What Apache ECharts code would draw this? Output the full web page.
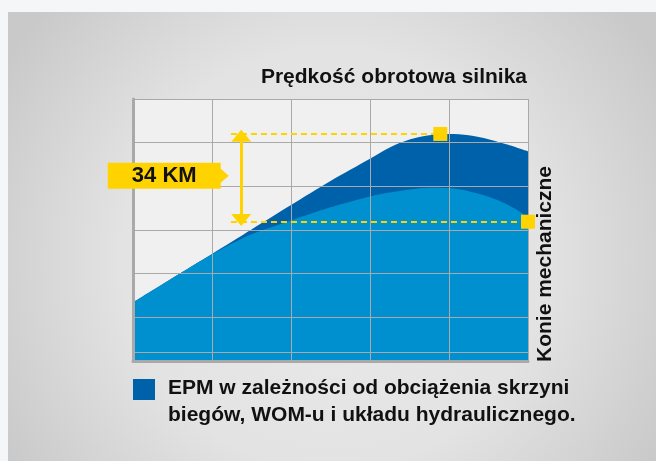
<!DOCTYPE html>
<html>
<head>
<meta charset="utf-8">
<script src="https://cdn.jsdelivr.net/npm/echarts@6/dist/echarts.min.js"></script>
<style>
  html, body { margin: 0; padding: 0; background: #f5f6f8; }
  #main { width: 656px; height: 461px; }
</style>
</head>
<body>
<div id="main"></div>
<script>
// obroty (umowne jednostki osi X) i moc (umowne jednostki osi Y)
var rpm = [0, 0.5, 1, 1.5, 2, 2.5, 3, 3.25, 3.5, 3.75, 4, 4.25, 4.5, 4.75, 5];
var powerMax = [1.34, 1.9, 2.45, 3.01, 3.57, 4.12, 4.63, 4.89, 5.07, 5.17, 5.2, 5.17, 5.08, 4.95, 4.8];
var powerEpm = [1.34, 1.9, 2.44, 2.9, 3.22, 3.52, 3.77, 3.86, 3.93, 3.97, 3.96, 3.89, 3.76, 3.57, 3.3];

var peakPoint = [3.89, 5.2];
var endPoint = [5, 3.19];
var dashStartX = 1.24;
var arrowX = 1.37;
var diffLabel = '34 KM';

var titleText = 'Prędkość obrotowa silnika';
var yName = 'Konie mechaniczne';
var legendLines = ['EPM w zależności od obciążenia skrzyni', 'biegów, WOM-u i układu hydraulicznego.'];

var darkBlue = '#0061ab';
var lightBlue = '#0090d0';
var yellow = '#ffd300';
var gridGrey = '#a9a9a9';
var fontFamily = '"Liberation Sans", Arial, sans-serif';

function pairs(xs, ys) {
  var out = [];
  for (var i = 0; i < xs.length; i++) {
    out.push([xs[i], ys[i]]);
  }
  return out;
}

var myChart = echarts.init(document.getElementById('main'));

myChart.setOption({
  backgroundColor: '#f5f6f8',
  animation: false,
  title: {
    text: titleText,
    right: 129,
    top: 67,
    padding: 0,
    textStyle: { fontFamily: fontFamily, fontSize: 21, fontWeight: 'bold', color: '#111' }
  },
  grid: {
    left: 133,
    top: 99,
    width: 395,
    height: 262,
    show: true,
    backgroundColor: '#f0f0f0',
    borderWidth: 0
  },
  xAxis: {
    type: 'value',
    min: 0,
    max: 5,
    interval: 1,
    z: 3,
    axisLine: { show: true, lineStyle: { color: gridGrey, width: 3 } },
    axisTick: { show: false },
    axisLabel: { show: false },
    splitLine: { show: true, lineStyle: { color: gridGrey, width: 1 } }
  },
  yAxis: {
    type: 'value',
    min: 0,
    max: 6,
    interval: 1,
    z: 3,
    axisLine: { show: true, lineStyle: { color: gridGrey, width: 3 } },
    axisTick: { show: false },
    axisLabel: { show: false },
    splitLine: { show: true, lineStyle: { color: gridGrey, width: 1 } }
  },
  graphic: [
    {
      type: 'rect',
      z: -10,
      silent: true,
      shape: { x: 8, y: 12, width: 648, height: 449 },
      style: {
        fill: new echarts.graphic.RadialGradient(0.5, 0.55, 0.85, [
          { offset: 0, color: '#eaeaea' },
          { offset: 0.55, color: '#e3e3e3' },
          { offset: 1, color: '#c9c9c9' }
        ])
      }
    },
    {
      type: 'text',
      x: 556,
      y: 264,
      rotation: Math.PI / 2,
      style: {
        text: yName,
        font: 'bold 21px ' + fontFamily,
        fill: '#111',
        textAlign: 'center',
        textVerticalAlign: 'bottom'
      }
    },
    {
      type: 'rect',
      shape: { x: 133, y: 379, width: 22, height: 21 },
      style: { fill: darkBlue }
    },
    {
      type: 'text',
      x: 168,
      y: 375,
      style: {
        text: legendLines.join('\n'),
        font: 'bold 21px ' + fontFamily,
        lineHeight: 27,
        fill: '#111',
        textAlign: 'left',
        textVerticalAlign: 'top'
      }
    }
  ],
  series: [
    {
      name: 'moc maksymalna',
      type: 'line',
      smooth: 0.3,
      clip: false,
      symbol: 'none',
      z: 2,
      lineStyle: { width: 0 },
      areaStyle: { color: darkBlue, opacity: 1 },
      data: pairs(rpm, powerMax),
      markLine: {
        silent: true,
        symbol: 'none',
        label: { show: false },
        z: 5,
        data: [
          [{ coord: [dashStartX, peakPoint[1]] }, { coord: peakPoint }],
          [{ coord: [dashStartX, endPoint[1]] }, { coord: endPoint }],
          [
            { coord: [0, 0.2], lineStyle: { color: gridGrey, width: 1, type: 'solid' } },
            { coord: [5, 0.2] }
          ]
        ],
        lineStyle: { color: yellow, width: 2, type: [6, 4] }
      },
      markPoint: {
        silent: true,
        symbol: 'rect',
        symbolSize: 14,
        label: { show: false },
        itemStyle: { color: yellow },
        z: 6,
        data: [{ coord: peakPoint }, { coord: endPoint }]
      }
    },
    {
      name: legendLines.join(' '),
      type: 'line',
      smooth: 0.3,
      clip: false,
      symbol: 'none',
      z: 2,
      lineStyle: { width: 0 },
      areaStyle: { color: lightBlue, opacity: 1 },
      data: pairs(rpm, powerEpm),
      markLine: {
        silent: true,
        symbol: ['triangle', 'triangle'],
        symbolSize: [20, 12],
        label: { show: false },
        z: 6,
        lineStyle: { color: yellow, width: 3, type: 'solid' },
        data: [
          [{ coord: [arrowX, peakPoint[1] - 0.04] }, { coord: [arrowX, endPoint[1] + 0.04] }]
        ]
      },
      markPoint: {
        silent: true,
        symbol: 'path://M0,0 L113,0 L113,6 L121,13 L113,20 L113,26 L0,26 Z',
        symbolSize: [121, 26],
        symbolOffset: [-73, -2],
        itemStyle: { color: yellow },
        z: 6,
        label: {
          show: true,
          position: 'inside',
          offset: [-4, 0],
          formatter: diffLabel,
          fontFamily: fontFamily,
          fontSize: 22,
          fontWeight: 'bold',
          color: '#111'
        },
        data: [{ coord: [arrowX, (peakPoint[1] + endPoint[1]) / 2] }]
      }
    }
  ]
});
</script>
</body>
</html>
